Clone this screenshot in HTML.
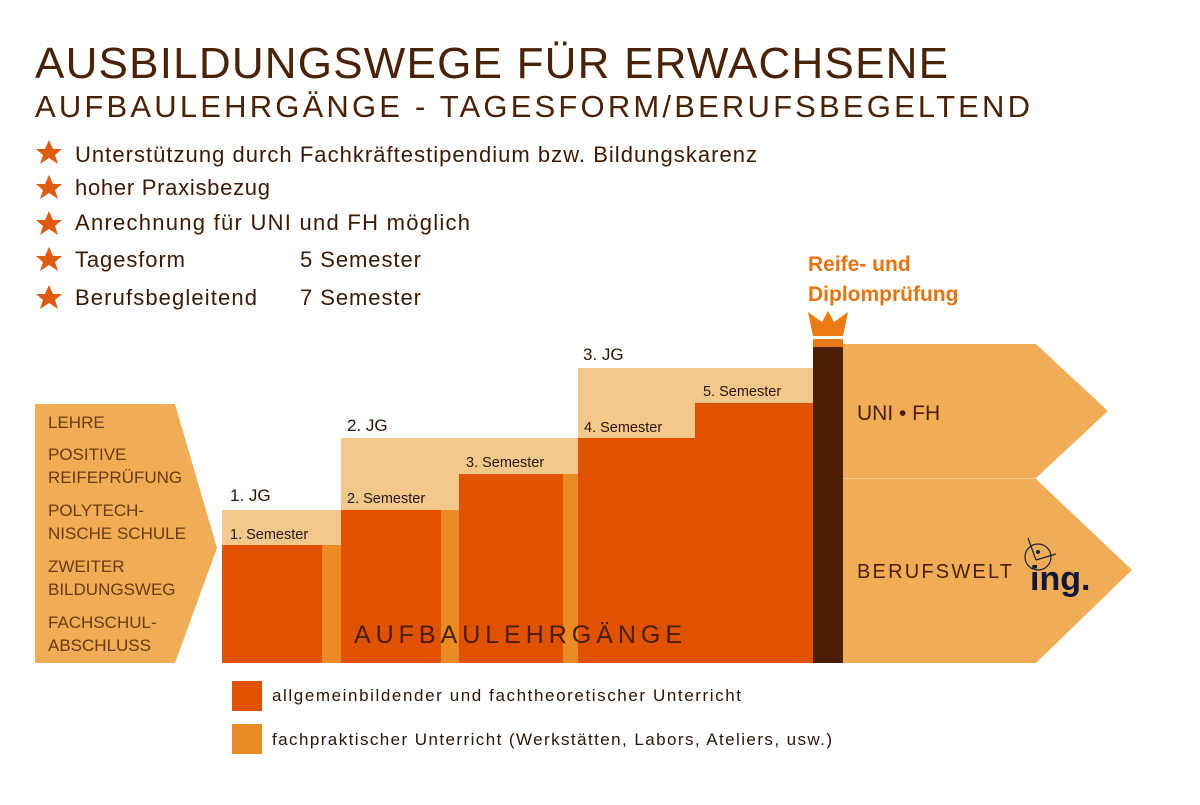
<!DOCTYPE html><html><head><meta charset="utf-8"><style>
body{margin:0;width:1200px;height:800px;background:#fff;overflow:hidden;font-family:"Liberation Sans",sans-serif}
</style></head><body>
<svg width="1200" height="800" viewBox="0 0 1200 800" xmlns="http://www.w3.org/2000/svg" font-family="Liberation Sans, sans-serif">
<text x="35" y="78" font-size="44" fill="#4a2206" textLength="913" lengthAdjust="spacing">AUSBILDUNGSWEGE FÜR ERWACHSENE</text>
<text x="35" y="117" font-size="31" fill="#4a2206" textLength="995" lengthAdjust="spacing">AUFBAULEHRGÄNGE - TAGESFORM/BERUFSBEGELTEND</text>
<g fill="#e05a10">
<polygon id="s" points="49,140 53,149 62,149 55,155 58,164 49,158 40,164 43,155 36,149 45,149"/>
<use href="#s" y="35"/><use href="#s" y="71"/><use href="#s" y="107"/><use href="#s" y="145"/>
</g>
<g font-size="22" fill="#3a1a05">
<text x="75" y="162" textLength="682">Unterstützung durch Fachkräftestipendium bzw. Bildungskarenz</text>
<text x="75" y="195" textLength="195">hoher Praxisbezug</text>
<text x="75" y="230" textLength="395">Anrechnung für UNI und FH möglich</text>
<text x="75" y="267" textLength="110">Tagesform</text><text x="300" y="267" textLength="121">5 Semester</text>
<text x="75" y="305" textLength="182">Berufsbegleitend</text><text x="300" y="305" textLength="121">7 Semester</text>
</g>
<text x="808" y="271" font-size="21" font-weight="bold" fill="#e8720c">Reife- und</text>
<text x="808" y="301" font-size="21" font-weight="bold" fill="#e8720c">Diplomprüfung</text>
<polygon points="35,404 175,404 217,548 175,663 35,663" fill="#f0ad55"/>
<g font-size="17" fill="#6a3a10">
<text x="48" y="428">LEHRE</text>
<text x="48" y="460">POSITIVE</text><text x="48" y="483">REIFEPRÜFUNG</text>
<text x="48" y="516">POLYTECH-</text><text x="48" y="539">NISCHE SCHULE</text>
<text x="48" y="572">ZWEITER</text><text x="48" y="595">BILDUNGSWEG</text>
<text x="48" y="628">FACHSCHUL-</text><text x="48" y="651">ABSCHLUSS</text>
</g>
<g fill="#f4c88a">
<rect x="222" y="510" width="119" height="153"/>
<rect x="341" y="438" width="237" height="225"/>
<rect x="578" y="368" width="235" height="295"/>
</g>
<g fill="#ec8a24">
<rect x="322" y="545" width="19" height="118"/>
<rect x="441" y="510" width="18" height="153"/>
<rect x="563" y="474" width="15" height="189"/>
</g>
<g fill="#e05200">
<rect x="222" y="545" width="100" height="118"/>
<rect x="341" y="510" width="100" height="153"/>
<rect x="459" y="474" width="104" height="189"/>
<rect x="578" y="438" width="117" height="225"/>
<rect x="695" y="403" width="118" height="260"/>
</g>
<g font-size="14.5" fill="#2a1505">
<text x="230" y="539">1. Semester</text>
<text x="347" y="503">2. Semester</text>
<text x="466" y="467">3. Semester</text>
<text x="584" y="432">4. Semester</text>
<text x="703" y="396">5. Semester</text>
</g>
<g font-size="17" fill="#2a1505">
<text x="230" y="501">1. JG</text>
<text x="347" y="431">2. JG</text>
<text x="583" y="360">3. JG</text>
</g>
<text x="354" y="643" font-size="25" fill="#4a1f00" textLength="328" lengthAdjust="spacing">AUFBAULEHRGÄNGE</text>
<polygon points="843,344 1036,344 1108,411 1036,478 843,478" fill="#f0ad55"/>
<polygon points="843,479 1036,479 1132,570 1036,663 843,663" fill="#f0ad55"/>
<line x1="843" y1="478.5" x2="1036" y2="478.5" stroke="#f6c790" stroke-width="1"/>
<text x="857" y="420" font-size="21" fill="#4a1f00">UNI • FH</text>
<text x="857" y="578" font-size="20" fill="#4a1f00" textLength="155">BERUFSWELT</text>
<circle cx="1038" cy="557" r="13" fill="none" stroke="#1a2040" stroke-width="1.2"/>
<line x1="1028" y1="538" x2="1036" y2="560" stroke="#1a2040" stroke-width="1.2"/>
<line x1="1036" y1="560" x2="1056" y2="554" stroke="#1a2040" stroke-width="1.2"/>
<circle cx="1038" cy="552" r="2" fill="#1a2040"/>
<text x="1030" y="590" font-size="34" font-weight="bold" fill="#0e1838">ing.</text>
<rect x="813" y="339" width="30" height="8" fill="#ec7a14"/>
<rect x="813" y="347" width="30" height="316" fill="#4a1f00"/>
<polygon points="808,312 822,322 828,311 834,322 848,312 843,336 813,336" fill="#ec7a14"/>
<rect x="232" y="681" width="30" height="30" fill="#e05200"/>
<rect x="232" y="724" width="30" height="30" fill="#ec8a24"/>
<text x="272" y="701" font-size="17" fill="#2a1505" textLength="469">allgemeinbildender und fachtheoretischer Unterricht</text>
<text x="272" y="745" font-size="17" fill="#2a1505" textLength="560">fachpraktischer Unterricht (Werkstätten, Labors, Ateliers, usw.)</text>
</svg>
</body></html>
